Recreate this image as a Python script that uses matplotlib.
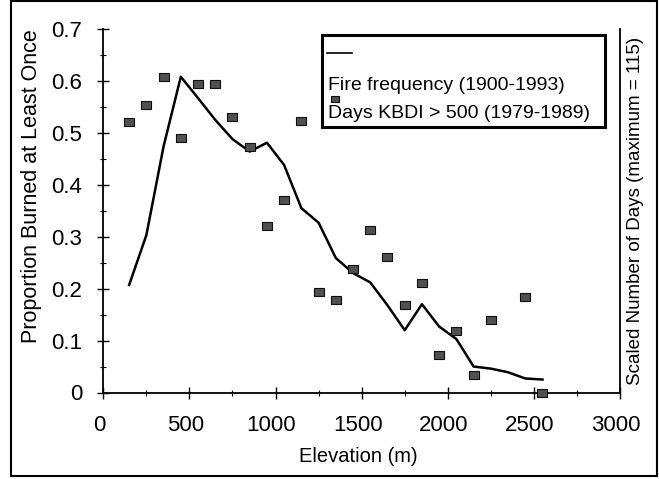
import matplotlib
matplotlib.use("Agg")
import matplotlib.pyplot as plt
from matplotlib.patches import Rectangle
from matplotlib.lines import Line2D
from matplotlib.ticker import MultipleLocator
from matplotlib.transforms import ScaledTranslation

plt.rcParams['font.family'] = ['Liberation Sans', 'DejaVu Sans']

# Fire frequency line (proportion burned at least once)
line_elev = [150, 250, 350, 450, 550, 650, 750, 850, 950, 1050, 1150, 1250,
             1350, 1450, 1550, 1650, 1750, 1850, 1950, 2050, 2150, 2250, 2350, 2450, 2550]
line_prop = [0.207, 0.303, 0.474, 0.608, 0.567, 0.525, 0.488, 0.464, 0.481, 0.438, 0.355, 0.327,
             0.259, 0.230, 0.212, 0.168, 0.120, 0.170, 0.127, 0.103, 0.050, 0.046, 0.039, 0.027, 0.025]

# Scaled days KBDI > 500
pt_elev = [150, 250, 350, 450, 550, 650, 750, 850, 950, 1050, 1150, 1250, 1350,
           1450, 1550, 1650, 1750, 1850, 1950, 2050, 2150, 2250, 2450, 2550]
pt_days = [0.521, 0.554, 0.607, 0.490, 0.594, 0.594, 0.531, 0.472, 0.321, 0.370, 0.523, 0.193, 0.178,
           0.237, 0.312, 0.260, 0.169, 0.210, 0.072, 0.119, 0.033, 0.140, 0.183, 0.0]

x_ticks = [0, 500, 1000, 1500, 2000, 2500, 3000]
y_ticks = [0, 0.1, 0.2, 0.3, 0.4, 0.5, 0.6, 0.7]
y_ticklabels = ['0', '0.1', '0.2', '0.3', '0.4', '0.5', '0.6', '0.7']

line_label = "Fire frequency (1900-1993)"
pt_label = "Days KBDI > 500 (1979-1989)"

W, H = 659, 479
fig = plt.figure(figsize=(W / 100, H / 100), dpi=100)

def fx(px):
    return px / W

def fy(py):
    return 1 - py / H

ax = fig.add_axes([fx(103.3), fy(392.5), fx(620) - fx(103.3), fy(29) - fy(392.5)])

ax.plot(line_elev, line_prop, color='black', lw=1.8, zorder=3)
rect_marker = [(-1.3, -1), (1.3, -1), (1.3, 1), (-1.3, 1), (-1.3, -1)]
ax.plot(pt_elev, pt_days, linestyle='none', marker=rect_marker, markersize=7.3,
        markerfacecolor='#505050', markeredgecolor='#111111', markeredgewidth=0.8,
        clip_on=False, zorder=4)

ax.set_xlim(0, 3000)
ax.set_ylim(0, 0.7)
ax.set_xticks(x_ticks)
ax.xaxis.set_minor_locator(MultipleLocator(250))
ax.set_yticks(y_ticks)
ax.set_yticklabels(y_ticklabels)
ax.yaxis.set_minor_locator(MultipleLocator(0.05))

ax.spines['top'].set_visible(False)
for s in ['left', 'bottom', 'right']:
    ax.spines[s].set_linewidth(1.3)
ax.tick_params(which='major', direction='inout', length=8, width=1.0, labelsize=16)
ax.tick_params(which='minor', direction='inout', length=5, width=0.8)
ax.tick_params(axis='x', pad=12)
ax.tick_params(axis='y', pad=11)
ax.tick_params(right=False, top=False)

offset = ScaledTranslation(-4 / 100, 0, fig.dpi_scale_trans)
for lab in ax.get_xticklabels():
    lab.set_transform(lab.get_transform() + offset)

fig.text(fx(358), fy(456), 'Elevation (m)', ha='center', va='center', fontsize=14.5)
fig.text(fx(32), fy(186), 'Proportion Burned at Least Once', rotation=90,
         ha='center', va='center', fontsize=15.5)
fig.text(fx(635), fy(211), 'Scaled Number of Days (maximum = 115)', rotation=90,
         ha='center', va='center', fontsize=13.5)

# Legend drawn as box
fig.patches.append(Rectangle((fx(322), fy(127)), fx(605) - fx(322), fy(35) - fy(127),
                             transform=fig.transFigure, fill=False, edgecolor='black', lw=2.2))
fig.lines.append(Line2D([fx(327), fx(352)], [fy(53), fy(53)], transform=fig.transFigure,
                        color='black', lw=1.2))
fig.text(fx(328), fy(85), line_label, ha='left', va='center', fontsize=14)
fig.lines.append(Line2D([fx(335)], [fy(99)], transform=fig.transFigure, linestyle='none',
                        marker=rect_marker, markersize=5.5, markerfacecolor='#505050',
                        markeredgecolor='#111111', markeredgewidth=0.8))
fig.text(fx(328), fy(113), pt_label, ha='left', va='center', fontsize=14)

# outer frame
fig.patches.append(Rectangle((fx(11), fy(476)), fx(657) - fx(11), fy(1) - fy(476),
                             transform=fig.transFigure, fill=False, edgecolor='black', lw=1.5))

fig.savefig('out.png', dpi=100)
